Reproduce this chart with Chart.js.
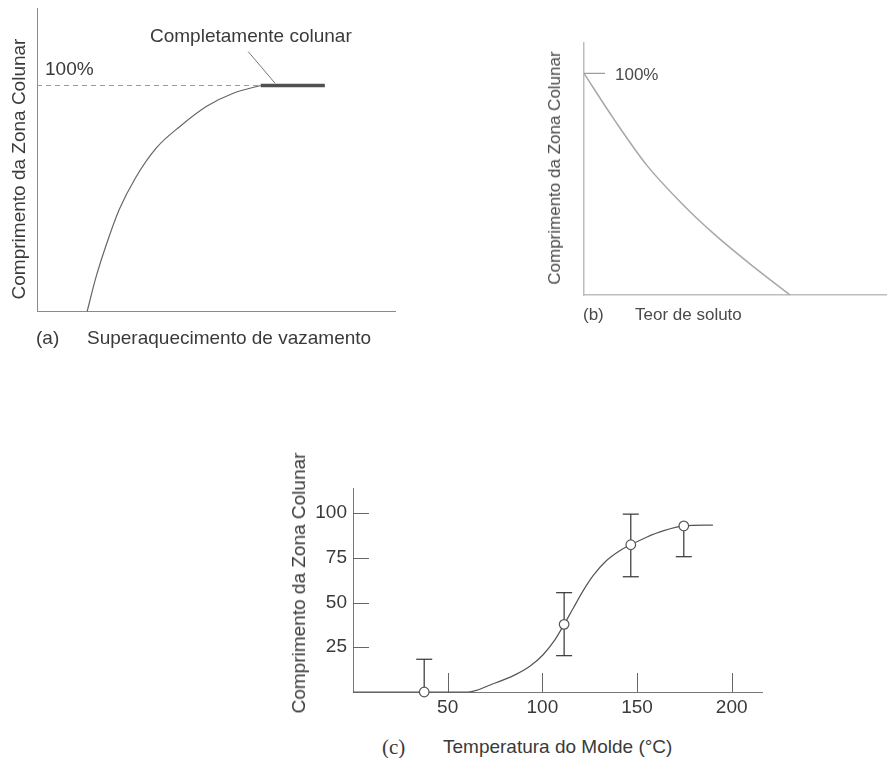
<!DOCTYPE html>
<html>
<head>
<meta charset="utf-8">
<script src="https://cdn.jsdelivr.net/npm/chart.js@4.4.1/dist/chart.umd.min.js"></script>
<style>
  html,body{margin:0;padding:0;background:#fff;}
  #wrap{position:relative;width:887px;height:758px;overflow:hidden;background:#fff;font-family:"Liberation Sans",Arial,sans-serif;color:#3a3a3a;}
  canvas{position:absolute;}
  .t{position:absolute;white-space:nowrap;line-height:22px;height:22px;}
  .r{position:absolute;white-space:nowrap;line-height:22px;transform:translate(-50%,-50%) rotate(-90deg);}
</style>
</head>
<body>
<div id="wrap">
  <canvas id="ca" style="left:0;top:0;width:420px;height:330px" width="420" height="330"></canvas>
  <canvas id="cb" style="left:560px;top:30px;width:327px;height:290px" width="327" height="290"></canvas>
  <canvas id="cc" style="left:280px;top:470px;width:500px;height:260px" width="500" height="260"></canvas>

  <div class="r" style="left:19px;top:169px;font-size:19px;">Comprimento da Zona Colunar</div>
  <div class="t" style="left:45px;top:58px;font-size:19px;">100%</div>
  <div class="t" style="left:150px;top:25px;font-size:19px;">Completamente colunar</div>
  <div class="t" style="left:36px;top:327px;font-size:19px;">(a)</div>
  <div class="t" style="left:87px;top:327px;font-size:19px;">Superaquecimento de vazamento</div>

  <div class="r" style="left:555px;top:168px;font-size:17px;color:#4a4a4a;">Comprimento da Zona Colunar</div>
  <div class="t" style="left:615px;top:64px;font-size:17px;color:#4a4a4a;">100%</div>
  <div class="t" style="left:583px;top:304px;font-size:17px;color:#4a4a4a;">(b)</div>
  <div class="t" style="left:635px;top:304px;font-size:17px;color:#4a4a4a;">Teor de soluto</div>

  <div class="r" style="left:299px;top:583px;font-size:19px;">Comprimento da Zona Colunar</div>
  <div class="t" style="left:382px;top:736px;font-size:21px;font-family:'Liberation Serif','Times New Roman',serif;">(c)</div>
  <div class="t" style="left:443px;top:736px;font-size:19px;">Temperatura do Molde (°C)</div>
</div>
<script>
// ---------- (a) Superaquecimento de vazamento ----------
const aCurveX = [14.0, 16.5, 19.5, 23.0, 27.5, 33.4, 40.0, 47.4, 55.0, 62.5];
const aCurveY = [0, 15.3, 30.2, 45.2, 59.1, 72.5, 82.0, 90.8, 96.7, 100];
const aRefX = [0, 62.5];          // dashed 100% line
const aRefY = [100, 100];
const aPlateauX = [62.5, 80.4];   // "Completamente colunar"
const aPlateauY = [100, 100];
const aLeaderX = [59.0, 66.5];
const aLeaderY = [115.0, 101.0];

// ---------- (b) Teor de soluto ----------
const bCurveX = [0, 9.7, 20.7, 31.7, 42.7, 55.9, 68.0];
const bCurveY = [100, 79.7, 58.6, 42.1, 27.8, 12.8, 0];
const bTickValues = [100];

// ---------- (c) Temperatura do Molde ----------
const cCurveX = [0, 60.8, 74.0, 85.0, 93.4, 100.4, 106.6, 111.5, 116.3, 121.5, 126.8, 133.9, 140.9, 146.7, 155.0, 163.7, 174.7, 190.1];
const cCurveY = [0, 0, 4.6, 9.3, 14.4, 20.8, 29.1, 37.8, 46.8, 56.5, 65.0, 73.5, 79.0, 82.3, 86.5, 90.0, 92.8, 93.3];
const cPointX = [37.6, 111.5, 146.7, 174.7];
const cPointY = [0, 37.8, 82.3, 92.8];
const cErrLow = [0, 20.3, 64.4, 75.6];
const cErrHigh = [18.3, 55.5, 99.4, 92.8];
const cYTicks = [25, 50, 75, 100];
const cXTicks = [50, 100, 150, 200];

const FONT = '"Liberation Sans", Arial, sans-serif';
Chart.defaults.font.family = FONT;
Chart.defaults.animation = false;
Chart.defaults.responsive = false;
Chart.defaults.plugins.legend.display = false;
Chart.defaults.plugins.tooltip.enabled = false;

const zip = (xs, ys) => xs.map((x, i) => ({x, y: ys[i]}));

function hiddenAxis(min, max, color, width, horizontal) {
  return {
    type: 'linear', min, max,
    grid: {display: false, drawTicks: false},
    border: {display: true, color, width},
    ticks: {display: false},
    afterFit: s => { if (horizontal) s.height = 0; else s.width = 0; }
  };
}

// Chart (a)
new Chart(document.getElementById('ca'), {
  type: 'scatter',
  data: {datasets: [
    {data: zip(aRefX, aRefY), showLine: true, borderColor: '#9a9a9a', borderWidth: 1, borderDash: [5, 4], pointRadius: 0, clip: false},
    {data: zip(aCurveX, aCurveY), showLine: true, borderColor: '#666', borderWidth: 1.2, cubicInterpolationMode: 'monotone', pointRadius: 0, clip: false},
    {data: zip(aPlateauX, aPlateauY), showLine: true, borderColor: '#505050', borderWidth: 3.5, pointRadius: 0, clip: false},
    {data: zip(aLeaderX, aLeaderY), showLine: true, borderColor: '#777', borderWidth: 1, pointRadius: 0, clip: false}
  ]},
  options: {
    layout: {padding: {left: 37, top: 8, right: 25, bottom: 18.5}},
    scales: {
      x: hiddenAxis(0, 100, '#8a8a8a', 1, true),
      y: hiddenAxis(0, 134.3, '#8a8a8a', 1, false)
    }
  }
});

// Chart (b)
new Chart(document.getElementById('cb'), {
  type: 'scatter',
  data: {datasets: [
    {data: zip(bCurveX, bCurveY), showLine: true, borderColor: '#a8a8a8', borderWidth: 1.5, cubicInterpolationMode: 'monotone', pointRadius: 0, clip: false}
  ]},
  options: {
    layout: {padding: {left: 24, top: 13, right: 0, bottom: 25}},
    scales: {
      x: hiddenAxis(0, 100, '#bdbdbd', 1.5, true),
      y: hiddenAxis(0, 113.7, '#bdbdbd', 1.5, false)
    }
  },
  plugins: [{
    id: 'bTicks',
    afterDatasetsDraw(chart) {
      const {ctx, scales: {y}, chartArea} = chart;
      ctx.save();
      ctx.strokeStyle = '#9a9a9a'; ctx.lineWidth = 1.2;
      bTickValues.forEach(v => {
        const py = y.getPixelForValue(v);
        ctx.beginPath(); ctx.moveTo(chartArea.left, py); ctx.lineTo(chartArea.left + 21, py); ctx.stroke();
      });
      ctx.restore();
    }
  }]
});

// Chart (c)
new Chart(document.getElementById('cc'), {
  type: 'scatter',
  data: {datasets: [
    {data: zip(cCurveX, cCurveY), showLine: true, borderColor: '#555', borderWidth: 1.2, cubicInterpolationMode: 'monotone', pointRadius: 0, clip: false, order: 2},
    {data: zip(cPointX, cPointY), showLine: false, pointRadius: 4.8, pointBackgroundColor: '#fff', pointBorderColor: '#555', pointBorderWidth: 1.2, clip: false, order: 0}
  ]},
  options: {
    layout: {padding: {left: 0, top: 18, right: 18, bottom: 0}},
    scales: {
      x: {
        type: 'linear', min: 0, max: 216,
        grid: {display: false, drawTicks: false},
        border: {display: true, color: '#777', width: 1},
        afterBuildTicks: s => { s.ticks = cXTicks.map(v => ({value: v})); },
        ticks: {color: '#3a3a3a', font: {size: 19, family: FONT}, padding: 4, maxRotation: 0},
        afterFit: s => { s.height = 38; }
      },
      y: {
        type: 'linear', min: 0, max: 114,
        grid: {display: false, drawTicks: false},
        border: {display: true, color: '#777', width: 1},
        afterBuildTicks: s => { s.ticks = cYTicks.map(v => ({value: v})); },
        ticks: {color: '#3a3a3a', font: {size: 19, family: FONT}, padding: 6},
        afterFit: s => { s.width = 73; }
      }
    }
  },
  plugins: [{
    id: 'cMarks',
    beforeDatasetsDraw(chart) {
      const {ctx, scales: {x, y}, chartArea} = chart;
      ctx.save();
      ctx.strokeStyle = '#666'; ctx.lineWidth = 1;
      cYTicks.forEach(v => {
        const py = Math.round(y.getPixelForValue(v)) + 0.5;
        ctx.beginPath(); ctx.moveTo(chartArea.left, py); ctx.lineTo(chartArea.left + 16, py); ctx.stroke();
      });
      cXTicks.forEach(v => {
        const px = Math.round(x.getPixelForValue(v)) + 0.5;
        ctx.beginPath(); ctx.moveTo(px, chartArea.bottom); ctx.lineTo(px, chartArea.bottom - 19); ctx.stroke();
      });
      // error bars
      ctx.strokeStyle = '#333'; ctx.lineWidth = 1.2;
      cPointX.forEach((vx, i) => {
        const px = x.getPixelForValue(vx);
        const lo = y.getPixelForValue(cErrLow[i]);
        const hi = y.getPixelForValue(cErrHigh[i]);
        ctx.beginPath(); ctx.moveTo(px, lo); ctx.lineTo(px, hi); ctx.stroke();
        if (cErrHigh[i] !== cPointY[i]) { ctx.beginPath(); ctx.moveTo(px - 8, hi); ctx.lineTo(px + 8, hi); ctx.stroke(); }
        if (cErrLow[i] !== cPointY[i]) { ctx.beginPath(); ctx.moveTo(px - 8, lo); ctx.lineTo(px + 8, lo); ctx.stroke(); }
      });
      ctx.restore();
    }
  }]
});
</script>
</body>
</html>
